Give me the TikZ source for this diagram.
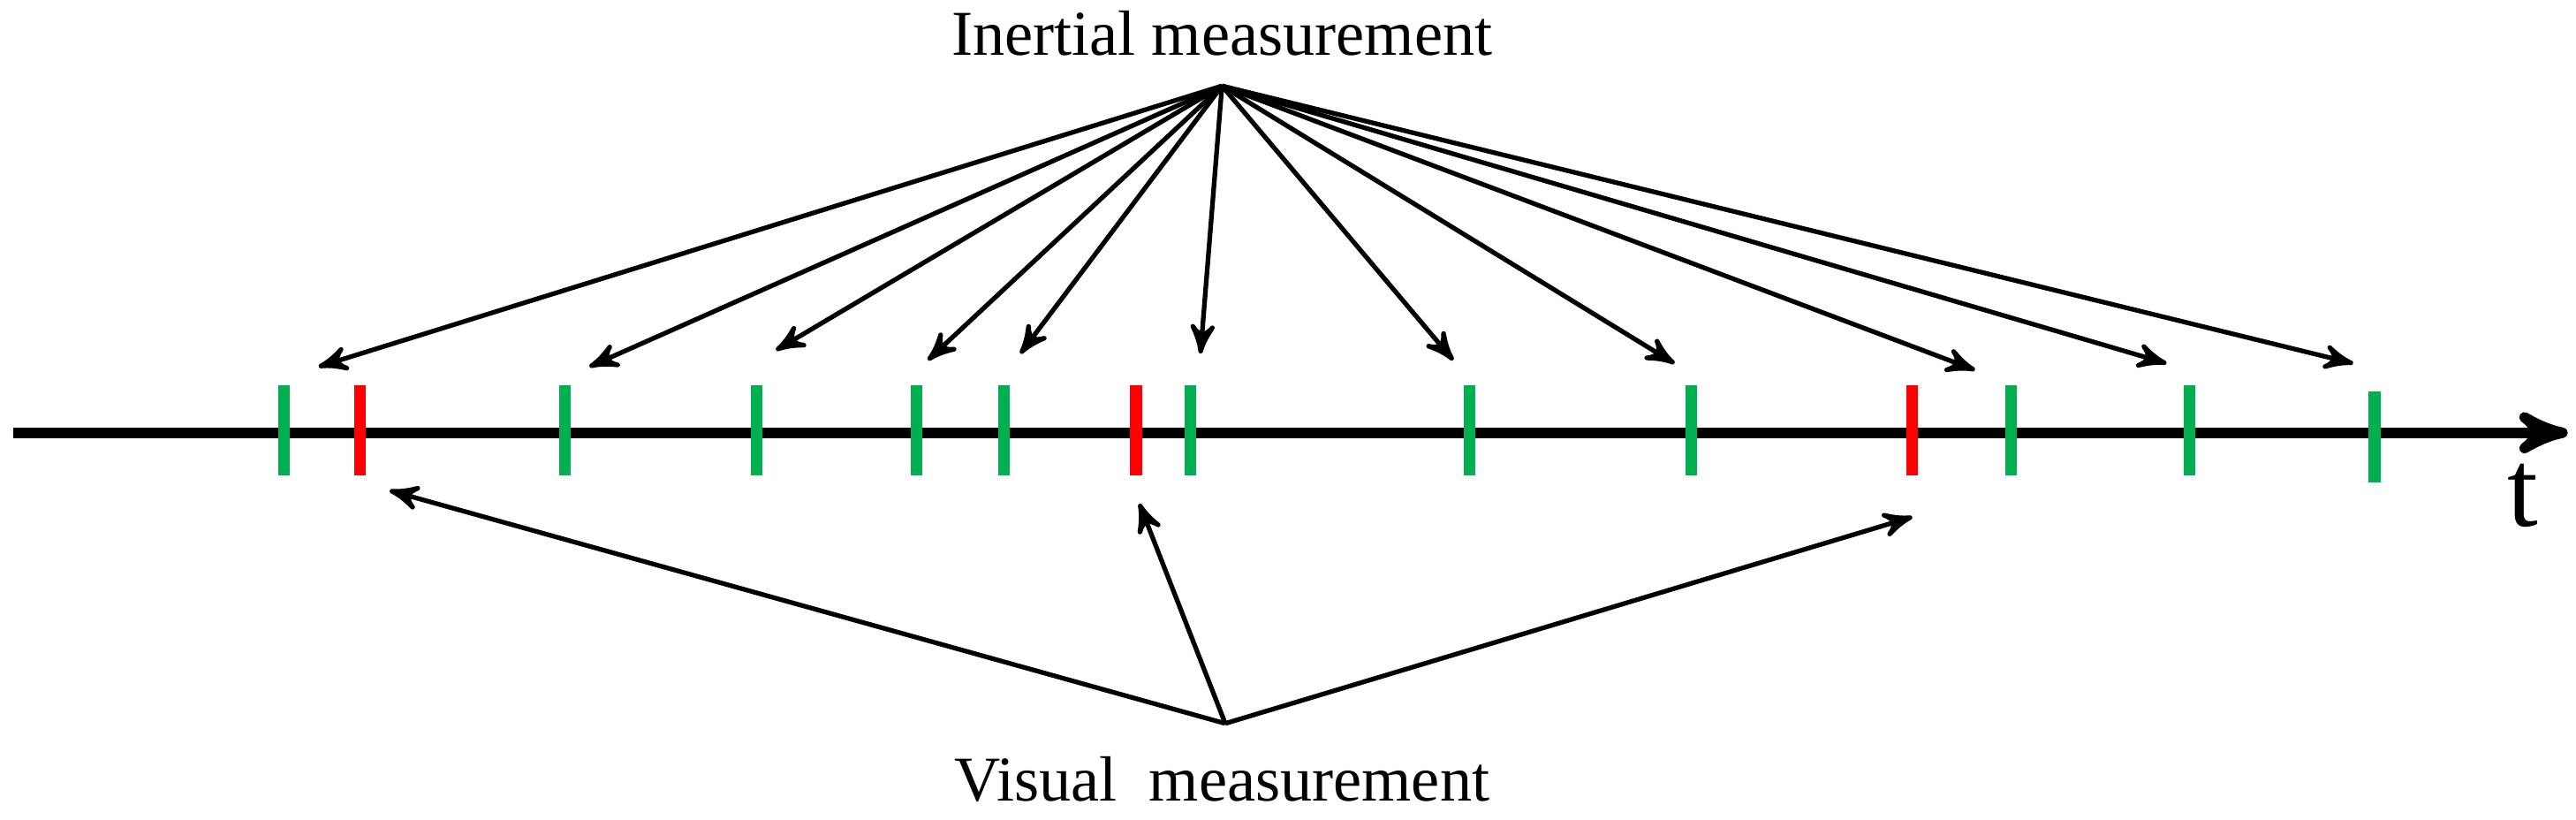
\documentclass[tikz,border=0pt]{standalone}
\usepackage{fontspec}
\setmainfont{Liberation Serif}
\usetikzlibrary{arrows}
\definecolor{tickgreen}{RGB}{0,176,80}
\tikzset{
	>=stealth', % arrow heads
	gtick/.style={draw=tickgreen, line width=2pt}, % inertial ticks
	rtick/.style={draw=red, line width=2pt}, % visual ticks
	pointer/.style={->, thick}, % arrows from the labels
}
\begin{document}
\begin{tikzpicture}[x=0.01cm, y=-0.01cm, font=\fontsize{11}{13}\selectfont]
			\useasboundingbox (0,0) rectangle (1560,496);
			% time axis
			\coordinate (t0) at (8,262);
			\coordinate (t1) at (1555,262);
			\draw[->, line width=1.8pt] (t0) -- (t1);
			\node (t) at (1528,300) {\fontsize{19}{21}\selectfont t};
			% ticks
			\foreach \x in {172,342,458,555,608,721,890,1024,1218,1326}
				\draw[gtick] (\x,233) -- (\x,288);
			\draw[gtick] (1438,237) -- (1438,292);
			\foreach \x in {218,688,1158}
				\draw[rtick] (\x,233) -- (\x,288);
			% labels
			\node (inertial) at (740,20) {Inertial measurement};
			\node (visual) at (740,472) {Visual\ \ measurement};
			\coordinate (iapex) at (740,52);
			\coordinate (vapex) at (742,438);
			% inertial arrows
			\foreach \n/\x/\y in {a/193/222, b/357/222, c/470/212, d/562/218, e/618/214, f/727/214, g/880/218, h/1014/220, i/1196/224, j/1312/220, k/1425/220}{
				\coordinate (in\n) at (\x,\y);
				\draw[pointer] (iapex) -- (in\n);
			}
			% visual arrows
			\foreach \n/\x/\y in {a/236/297, b/690/305, c/1158/313}{
				\coordinate (vis\n) at (\x,\y);
				\draw[pointer] (vapex) -- (vis\n);
			}
		\end{tikzpicture}
\end{document}
